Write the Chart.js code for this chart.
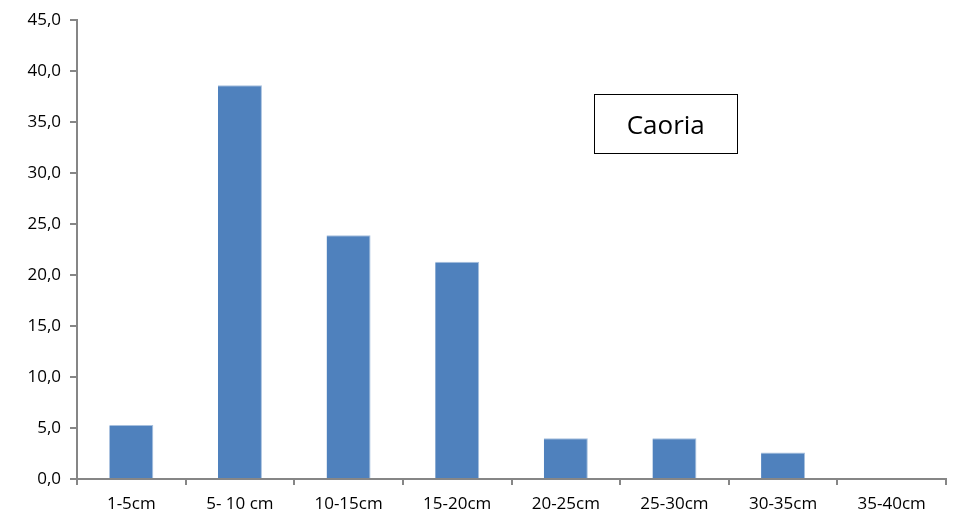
<!DOCTYPE html>
<html>
<head>
<meta charset="utf-8">
<script src="https://cdn.jsdelivr.net/npm/chart.js@4/dist/chart.umd.min.js"></script>
<style>
  html, body { margin: 0; padding: 0; background: #fff; }
  #wrap { width: 959px; height: 516px; position: relative; }
</style>
</head>
<body>
<div id="wrap"><canvas id="c"></canvas></div>
<script>
// Size classes (length ranges) and their share in percent
const categories = ['1-5cm', '5- 10 cm', '10-15cm', '15-20cm', '20-25cm', '25-30cm', '30-35cm', '35-40cm'];
const percentages = [5.3, 38.6, 23.9, 21.3, 4.0, 4.0, 2.6, 0.0];
const yTicks = [0, 5, 10, 15, 20, 25, 30, 35, 40, 45];
const boxTitle = 'Caoria';

const FONT = '"Open Sans", "Liberation Sans", sans-serif';
const AXIS = '#868686';

// Boxed title drawn inside the plot area
const titleBox = {
  id: 'titleBox',
  afterDraw(chart) {
    const { ctx, chartArea: a } = chart;
    const w = a.right - a.left, h = a.bottom - a.top;
    const x0 = a.left + w * 0.595, x1 = a.left + w * 0.76;
    const y0 = a.top + h * 0.161, y1 = a.top + h * 0.289;
    ctx.save();
    ctx.fillStyle = '#fff';
    ctx.fillRect(x0, y0, x1 - x0, y1 - y0);
    ctx.strokeStyle = '#000';
    ctx.lineWidth = 1;
    ctx.strokeRect(Math.round(x0) + 0.5, Math.round(y0) + 0.5, Math.round(x1 - x0), Math.round(y1 - y0));
    ctx.fillStyle = '#000';
    ctx.font = '26px ' + FONT;
    ctx.textAlign = 'center';
    ctx.textBaseline = 'middle';
    ctx.fillText(boxTitle, (x0 + x1) / 2, (y0 + y1) / 2 + 3);
    ctx.restore();
  }
};

new Chart(document.getElementById('c'), {
  type: 'bar',
  data: {
    labels: categories,
    datasets: [{
      data: percentages,
      backgroundColor: '#4F81BD',
      borderColor: '#A7C0DE',
      borderWidth: { top: 1, right: 1, left: 0, bottom: 0 },
      categoryPercentage: 1,
      barPercentage: 0.405
    }]
  },
  options: {
    responsive: true,
    maintainAspectRatio: false,
    animation: false,
    layout: { padding: { top: 20, right: 13, left: 0, bottom: 0 } },
    plugins: { legend: { display: false }, tooltip: { enabled: false } },
    scales: {
      x: {
        grid: { drawOnChartArea: false, tickLength: 6, color: AXIS, lineWidth: 2, offset: true },
        border: { color: AXIS, width: 2 },
        ticks: { color: '#000', font: { family: FONT, size: 17 }, padding: 9, maxRotation: 0, autoSkip: false },
        afterFit(s) { s.height = 37; }
      },
      y: {
        min: 0, max: 45,
        afterBuildTicks(s) { s.ticks = yTicks.map(v => ({ value: v })); },
        grid: { drawOnChartArea: false, tickLength: 7, color: AXIS, lineWidth: 2 },
        border: { color: AXIS, width: 2 },
        ticks: {
          color: '#000', font: { family: FONT, size: 17 }, padding: 9,
          callback: v => v.toFixed(1).replace('.', ',')
        },
        afterFit(s) { s.width = 77; }
      }
    }
  },
  plugins: [titleBox]
});
</script>
</body>
</html>
